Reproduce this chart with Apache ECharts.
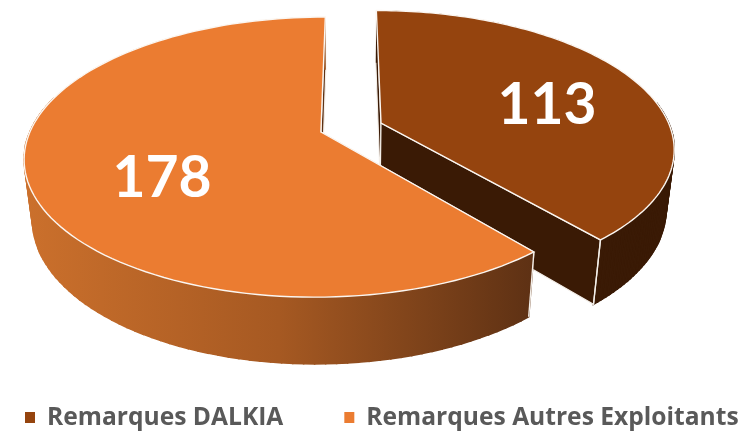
<!DOCTYPE html>
<html>
<head>
<meta charset="utf-8">
<style>
  html, body { margin: 0; padding: 0; background: #fff; }
  #chart { width: 739px; height: 433px; }
</style>
<script src="https://cdn.jsdelivr.net/npm/echarts@6/dist/echarts.min.js"></script>
</head>
<body>
<div id="chart"></div>
<script>
var categories = ["Remarques DALKIA", "Remarques Autres Exploitants"]
var values = [113, 178]
var topColors = ["#95440E", "#EB7C31"]

// perspective of the tilted disc, radius 1 in plane units
var view = { x: 350, y: 132, rx: 291, ry: 135.6, persp: 0.179, depth: 60.6, shrink: 0.025 }
// apex of each slice once exploded, plane units
var apex = [
  { x: 0.1078, y: -0.067 },
  { x: -0.1, y: 0 },
]
var labelPos = [
  [547, 106],
  [162, 179],
]

var total = values[0] + values[1]

function project(px, py, low) {
  var w = 1 - view.persp * py + (low ? view.shrink : 0)
  return [
    view.x + (view.rx * px) / w,
    view.y + (view.ry * py + (low ? view.depth : 0)) / w,
  ]
}

function rimPoints(idx, a0, a1, low) {
  var pts = []
  var n = 120
  for (var i = 0; i <= n; i++) {
    var a = a0 + ((a1 - a0) * i) / n
    pts.push(project(apex[idx].x + Math.sin(a), apex[idx].y - Math.cos(a), low))
  }
  return pts
}

function cutFace(idx, a, fill) {
  var c = rimPoints(idx, a, a, false)[0]
  var d = rimPoints(idx, a, a, true)[0]
  return {
    type: "polygon",
    shape: {
      points: [project(apex[idx].x, apex[idx].y, false), c, d, project(apex[idx].x, apex[idx].y, true)],
    },
    style: { fill: fill, stroke: "#f4efe9", lineWidth: 1.2 },
  }
}

var wallFills = [
  "#3A1A05",
  {
    type: "linear",
    x: 25,
    y: 0,
    x2: 532,
    y2: 0,
    global: true,
    colorStops: [
      { offset: 0, color: "#CB702C" },
      { offset: 0.5, color: "#A65922" },
      { offset: 1, color: "#5E3114" },
    ],
  },
]

// outer wall as strips so the silhouette follows the sweep between both rims
function wallStrips(idx, top, low) {
  var strips = [
    {
      type: "polygon",
      shape: { points: top.concat(low.slice().reverse()) },
      style: { fill: wallFills[idx] },
    },
  ]
  for (var i = 0; i < top.length - 1; i++) {
    // the far part of the rim is behind the top face anyway
    if (top[i][1] < view.y - 30) continue
    strips.push({
      type: "polygon",
      shape: { points: [top[i], top[i + 1], low[i + 1], low[i]] },
      style: { fill: wallFills[idx], stroke: wallFills[idx], lineWidth: 1.5 },
    })
  }
  return strips
}

function renderSlice(idx) {
  return function (params, api) {
    var start = idx === 0 ? 0 : (values[0] / total) * Math.PI * 2
    var end = start + (api.value(0) / total) * Math.PI * 2
    var a = apex[idx]
    var top = rimPoints(idx, start, end, false)
    var low = rimPoints(idx, start, end, true)
    var corner = idx === 0 ? end : start
    var cornerLine = {
      type: "line",
      shape: {
        x1: rimPoints(idx, corner, corner, false)[0][0],
        y1: rimPoints(idx, corner, corner, false)[0][1],
        x2: rimPoints(idx, corner, corner, true)[0][0],
        y2: rimPoints(idx, corner, corner, true)[0][1],
      },
      style: { stroke: "#f4efe9", lineWidth: 1.4 },
    }
    var children = []
    if (idx === 0) {
      children.push(cutFace(0, start, "#3A1A05"))
      children = children.concat(wallStrips(0, top, low))
      children.push(cutFace(0, end, "#3A1A05"))
    } else {
      children.push(cutFace(1, end, "#5E3114"))
      children.push(cutFace(1, start, "#5E3114"))
      children = children.concat(wallStrips(1, top, low))
    }
    children.push(cornerLine)
    children.push({
      type: "polygon",
      shape: { points: [project(a.x, a.y, false)].concat(top) },
      style: { fill: topColors[idx], stroke: "#fbf6f1", lineWidth: 1.4 },
    })
    children.push({
      type: "text",
      style: {
        x: labelPos[idx][0],
        y: labelPos[idx][1],
        text: String(api.value(0)),
        fill: "#fff",
        font: "bold 57px Lato",
        align: "center",
        verticalAlign: "middle",
      },
    })
    return { type: "group", children: children }
  }
}

var chart = echarts.init(document.getElementById("chart"), null, { renderer: "canvas" })

chart.setOption({
  animation: false,
  legend: {
    left: 25,
    top: 405,
    padding: 0,
    itemWidth: 10,
    itemHeight: 11,
    itemGap: 61,
    icon: "rect",
    textStyle: { color: "#595959", fontFamily: "Open Sans", fontWeight: "bold", fontSize: 24.6, padding: [0, 0, 0, 7] },
    data: categories,
  },
  series: categories.map(function (name, i) {
    return {
      type: "custom",
      name: name,
      coordinateSystem: "none",
      silent: true,
      itemStyle: { color: topColors[i] },
      renderItem: renderSlice(i),
      data: [[values[i]]],
    }
  }),
})
</script>
</body>
</html>
